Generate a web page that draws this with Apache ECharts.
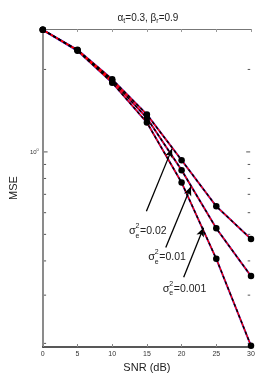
<!DOCTYPE html>
<html><head><meta charset="utf-8">
<script src="https://cdn.jsdelivr.net/npm/echarts@6/dist/echarts.min.js"></script>
<style>html,body{margin:0;padding:0;background:#fff}#c{width:277px;height:390px}</style>
</head><body><div id="c"></div>
<script>
const snr = [0, 5, 10, 15, 20, 25, 30];
const mse_s002 = [2.79, 2.36, 1.84, 1.37, 0.933, 0.633, 0.481];
const mse_s001 = [2.79, 2.35, 1.82, 1.33, 0.858, 0.526, 0.352];
const mse_s0001 = [2.79, 2.34, 1.79, 1.28, 0.773, 0.407, 0.196];
const xTicks = [0, 5, 10, 15, 20, 25, 30];
const yMajorTicks = [1];
const yMinorTicks = [0.2, 0.3, 0.4, 0.5, 0.6, 0.7, 0.8, 0.9, 2];
const annoText = ['=0.02', '=0.01', '=0.001'];
const annoLabelPos = [[12.42, 0.513], [15.21, 0.412], [17.30, 0.316]];
const annoArrowFrom = [[14.93, 0.607], [17.72, 0.448], [20.30, 0.349]];
const annoArrowTo = [[18.63, 1.028], [21.35, 0.747], [23.16, 0.529]];

const FONT = 'Liberation Sans, Arial, sans-serif';
const chart = echarts.init(document.getElementById('c'), null, {renderer: 'canvas'});

function curve(data) {
  const pts = snr.map((x, i) => [x, data[i]]);
  return [
    {type: 'line', data: pts, symbol: 'none', lineStyle: {color: '#4040ff', width: 2.0}, z: 2, animation: false, silent: true},
    {type: 'line', data: pts, symbol: 'none', lineStyle: {color: '#ff0000', width: 1.4}, z: 3, animation: false, silent: true},
    {type: 'line', data: pts, symbol: 'circle', symbolSize: 6.5, itemStyle: {color: '#000'},
     lineStyle: {color: '#000', width: 1.4, type: [3, 3]}, z: 4, animation: false, silent: true}
  ];
}

const series = [].concat(curve(mse_s002), curve(mse_s001), curve(mse_s0001));
series[0].markLine = {
  silent: true, animation: false, symbol: ['none', 'arrow'], symbolSize: [6, 9],
  lineStyle: {color: '#000', width: 1.3, type: 'solid'}, label: {show: false},
  data: annoArrowFrom.map((f, i) => [{coord: f}, {coord: annoArrowTo[i]}])
};

chart.setOption({
  animation: false,
  textStyle: {fontFamily: FONT},
  title: {
    text: '{a|α}{s|t}{a|=0.3, β}{s|r}{a|=0.9}', left: 143, top: 7, textAlign: 'center',
    textStyle: {fontWeight: 'normal', rich: {
      a: {fontSize: 10, color: '#222', fontWeight: 'normal', fontFamily: FONT},
      s: {fontSize: 7, color: '#222', fontWeight: 'normal', padding: [6, 0, 0, 0], fontFamily: FONT}}}
  },
  grid: {left: 36, right: 26, top: 29, bottom: 43},
  xAxis: [
    {type: 'value', min: 0, max: 30, interval: 5, position: 'bottom',
     name: 'SNR (dB)', nameLocation: 'middle', nameGap: 11,
     nameTextStyle: {fontSize: 11, color: '#222', fontFamily: FONT},
     axisLine: {lineStyle: {color: '#222', width: 1.5}},
     axisTick: {inside: true, length: 3, lineStyle: {color: '#888'}},
     axisLabel: {fontSize: 7, color: '#333', margin: 4, fontFamily: FONT,
       customValues: xTicks},
     splitLine: {show: false}},
    {type: 'value', min: 0, max: 30, interval: 5, position: 'top',
     axisLine: {lineStyle: {color: '#777', width: 1}},
     axisTick: {inside: true, length: 3, lineStyle: {color: '#999'}},
     axisLabel: {show: false}, splitLine: {show: false}}
  ],
  yAxis: [
    {type: 'log', logBase: 10, min: 0.194, max: 2.81, position: 'left',
     name: 'MSE', nameLocation: 'middle', nameGap: 22, nameRotate: 90,
     nameTextStyle: {fontSize: 11, color: '#222', fontFamily: FONT},
     axisLine: {lineStyle: {color: '#888', width: 1.6}},
     axisTick: {show: false}, splitLine: {show: false},
     axisLabel: {margin: 4, formatter: v => Math.abs(v - 1) < 1e-6 ? '{b|10}{s|0}' : '',
       showMinLabel: false, showMaxLabel: false,
       rich: {b: {fontSize: 6, color: '#333', fontFamily: FONT}, s: {fontSize: 4, color: '#333', padding: [0, 0, 5, 0], fontFamily: FONT}}}},
    {type: 'log', logBase: 10, min: 0.194, max: 2.81, position: 'right',
     axisLine: {lineStyle: {color: '#888', width: 1.6}},
     axisTick: {show: false}, axisLabel: {show: false}, splitLine: {show: false}}
  ],
  series: series
});

const g = [];
function yTick(v, len) {
  const pL = chart.convertToPixel({xAxisIndex: 0, yAxisIndex: 0}, [0, v]);
  const pR = chart.convertToPixel({xAxisIndex: 0, yAxisIndex: 0}, [30, v]);
  g.push({type: 'line', shape: {x1: pL[0] + 0.8, y1: pL[1], x2: pL[0] + 0.8 + len, y2: pL[1]}, style: {stroke: '#555', lineWidth: 1}, silent: true});
  g.push({type: 'line', shape: {x1: pR[0] - 0.8, y1: pR[1], x2: pR[0] - 0.8 - len, y2: pR[1]}, style: {stroke: '#555', lineWidth: 1}, silent: true});
}
yMajorTicks.forEach(v => yTick(v, 4));
yMinorTicks.forEach(v => yTick(v, 2.5));

annoLabelPos.forEach((pos, i) => {
  const p = chart.convertToPixel({xAxisIndex: 0, yAxisIndex: 0}, pos);
  const x = p[0], y = p[1];
  g.push({type: 'text', x: x, y: y, style: {text: 'σ', font: '11px ' + FONT, fill: '#222', verticalAlign: 'middle', align: 'left'}, silent: true});
  g.push({type: 'text', x: x + 6.5, y: y - 5, style: {text: '2', font: '7px ' + FONT, fill: '#222', verticalAlign: 'middle', align: 'left'}, silent: true});
  g.push({type: 'text', x: x + 6.5, y: y + 4.5, style: {text: 'e', font: '7px ' + FONT, fill: '#222', verticalAlign: 'middle', align: 'left'}, silent: true});
  g.push({type: 'text', x: x + 11, y: y, style: {text: annoText[i], font: '10.5px ' + FONT, fill: '#222', verticalAlign: 'middle', align: 'left'}, silent: true});
});
chart.setOption({graphic: g});
</script></body></html>
